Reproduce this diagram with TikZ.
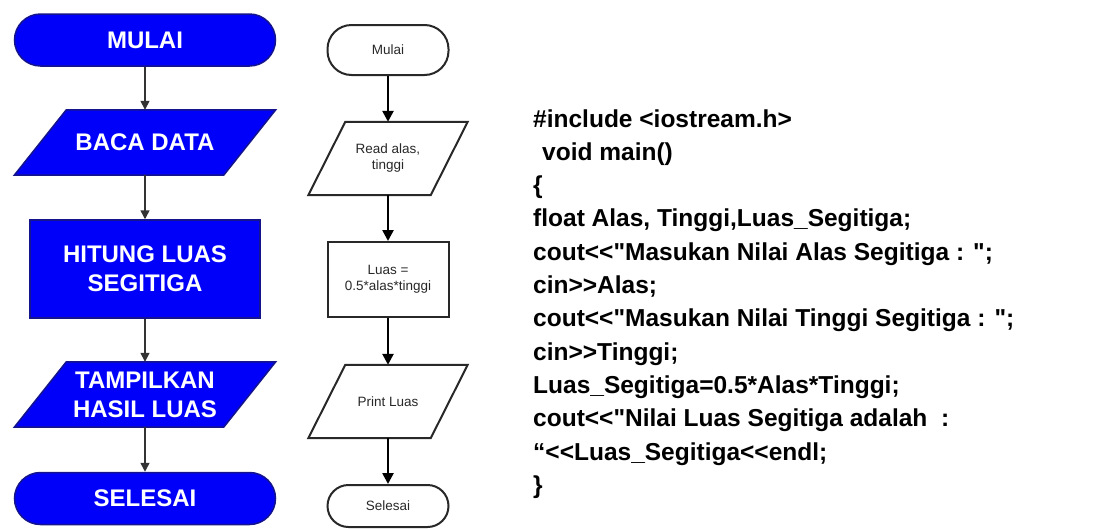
\documentclass[tikz,border=0pt]{standalone}
\usepackage{fontspec}
\setmainfont{Liberation Sans}
\newfontfamily\codefont{Liberation Sans}[Ligatures=TeXOff]
\usetikzlibrary{arrows.meta,backgrounds}
\definecolor{flowblue}{RGB}{0,0,250}
\definecolor{flowedge}{RGB}{20,20,140}
\definecolor{boxgray}{RGB}{40,40,40}
\begin{document}
\begin{tikzpicture}[x=1pt,y=-1pt,
  bluefill/.style={draw=flowedge,line width=1.5pt,fill=flowblue,text=white,align=center,
    font=\fontsize{24}{29}\selectfont\bfseries},
  bluestadium/.style={bluefill,rectangle,rounded corners=26pt,minimum width=261pt,minimum height=52pt},
  blueio/.style={rectangle,text=white,align=center,font=\fontsize{24}{29}\selectfont\bfseries,
    minimum width=209pt,minimum height=65pt,inner sep=0pt},
  blueproc/.style={bluefill,rectangle,minimum width=230pt,minimum height=98pt},
  bluearrow/.style={draw=black!80,line width=1.5pt,-{Triangle[length=9pt,width=9pt]}},
  grayline/.style={draw=boxgray,line width=2pt,text=boxgray,align=center,
    font=\fontsize{13.5}{16}\selectfont},
  graystadium/.style={grayline,rectangle,rounded corners=24pt,minimum width=121pt,minimum height=50pt},
  grayio/.style={rectangle,text=boxgray,align=center,font=\fontsize{13.5}{16}\selectfont,
    minimum width=122pt,minimum height=73pt,inner sep=0pt},
  grayproc/.style={grayline,rectangle,minimum width=121pt,minimum height=75pt},
  grayarrow/.style={draw=black,line width=2.5pt,-{Triangle[length=11pt,width=11pt]}},
  code/.style={anchor=base west,inner sep=0pt,font=\codefont\fontsize{24.5}{33}\selectfont\bfseries}]
\useasboundingbox (0,0) rectangle (1116,528);
% blue flowchart
\node[bluestadium] (mulai) at (145,40) {MULAI};
\node[blueio] (baca) at (145,142.5) {BACA DATA};
\node[blueproc] (hitung) at (145,269) {HITUNG LUAS\\SEGITIGA};
\node[blueio] (tampil) at (145,394.5) {TAMPILKAN\\HASIL LUAS};
\node[bluestadium] (selesai) at (145,498.5) {SELESAI};
\foreach \a/\b in {mulai/baca,baca/hitung,hitung/tampil,tampil/selesai}
  \draw[bluearrow] (\a) -- (\b);
% plain flowchart
\node[graystadium] (start) at (388,50) {Mulai};
\node[grayio] (read) at (388,158.5) {Read alas,\\tinggi};
\node[grayproc] (luas) at (388,279.5) {Luas =\\0.5*alas*tinggi};
\node[grayio] (print) at (388,401.5) {Print Luas};
\node[graystadium,rounded corners=21pt,minimum height=42pt] (stop) at (388,506) {Selesai};
\foreach \a/\b in {start/read,read/luas,luas/print,print/stop}
  \draw[grayarrow] (\a) -- (\b);
% parallelograms behind the io nodes
\begin{scope}[on background layer]
\foreach \n in {baca,tampil}
  \draw[draw=flowedge,line width=1.5pt,fill=flowblue] ([xshift=26pt]\n.north west) -- ([xshift=26pt]\n.north east)
    -- ([xshift=-26pt]\n.south east) -- ([xshift=-26pt]\n.south west) -- cycle;
\foreach \n in {read,print}
  \draw[draw=boxgray,line width=2pt,fill=white] ([xshift=18.5pt]\n.north west) -- ([xshift=18.5pt]\n.north east)
    -- ([xshift=-18.5pt]\n.south east) -- ([xshift=-18.5pt]\n.south west) -- cycle;
\end{scope}
% program
\node[code] (code1) at (533,127) {\#include <iostream.h>};
\node[code] (code2) at (542,160.3) {void main()};
\node[code] (code3) at (533,193.6) {\{};
\node[code] (code4) at (533,226.9) {float Alas, Tinggi,Luas\_Segitiga;};
\node[code] (code5) at (533,260.2) {cout<<"Masukan Nilai Alas Segitiga : ";};
\node[code] (code6) at (533,293.5) {cin>>Alas;};
\node[code] (code7) at (533,326.8) {cout<<"Masukan Nilai Tinggi Segitiga : ";};
\node[code] (code8) at (533,360.1) {cin>>Tinggi;};
\node[code] (code9) at (533,393.4) {Luas\_Segitiga=0.5*Alas*Tinggi;};
\node[code] (code10) at (533,426.7) {cout<<"Nilai Luas Segitiga adalah\ \ :};
\node[code] (code11) at (533,460) {“<<Luas\_Segitiga<<endl;};
\node[code] (code12) at (533,493.3) {\}};
\end{tikzpicture}
\end{document}
